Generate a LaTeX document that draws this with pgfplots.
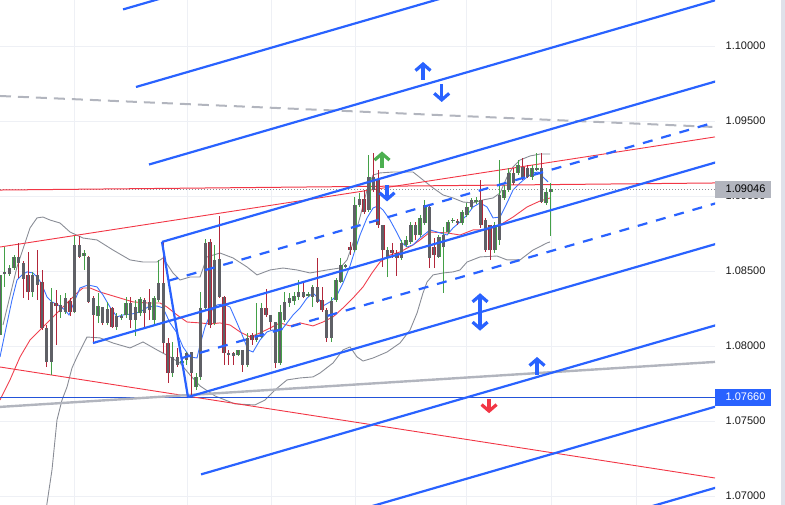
\documentclass[border=0pt]{standalone}
\usepackage{fontspec}
\setmainfont{Liberation Sans}
\usepackage{pgfplots}
\pgfplotsset{compat=1.18}
\usepackage{pgfplotstable}
\usetikzlibrary{arrows.meta}

\definecolor{tvblue}{HTML}{2962FF}
\definecolor{tvred}{HTML}{F23645}
\definecolor{cgreen}{HTML}{43A047}
\definecolor{cred}{HTML}{B2263A}
\definecolor{cbody}{HTML}{5F6066}
\definecolor{bbgrey}{HTML}{8A8D96}
\definecolor{lgrey}{HTML}{B2B5BE}
\definecolor{gridc}{HTML}{EEF0F5}
\definecolor{maBlue}{HTML}{3D74FF}
\definecolor{maRed}{HTML}{F0404F}
\definecolor{arrgreen}{HTML}{4CAF50}
\definecolor{strip}{HTML}{DFE1EA}

\pgfplotstableread{
i o h l c
0 1.08074 1.08507 1.08040 1.08474
1 1.08480 1.08660 1.08394 1.08494
2 1.08480 1.08540 1.08467 1.08520
3 1.08520 1.08607 1.08507 1.08594
7 1.08360 1.08494 1.08327 1.08474
11 1.07894 1.08387 1.07807 1.08294
13 1.08227 1.08340 1.08187 1.08274
14 1.08227 1.08354 1.08214 1.08320
16 1.08227 1.08734 1.08220 1.08674
18 1.08600 1.08640 1.08507 1.08620
21 1.08200 1.08354 1.08154 1.08267
23 1.08154 1.08294 1.08140 1.08247
25 1.08127 1.08220 1.08107 1.08200
26 1.08187 1.08214 1.08174 1.08200
27 1.08207 1.08327 1.08187 1.08287
29 1.08174 1.08307 1.08067 1.08260
30 1.08220 1.08327 1.08200 1.08314
33 1.08174 1.08334 1.08140 1.08320
34 1.08307 1.08574 1.08294 1.08420
37 1.07820 1.08027 1.07794 1.07927
39 1.07887 1.07927 1.07867 1.07900
40 1.07907 1.07960 1.07874 1.07954
42 1.07727 1.07820 1.07707 1.07794
43 1.07794 1.08360 1.07774 1.08254
44 1.08254 1.08714 1.08240 1.08687
46 1.08154 1.08674 1.08140 1.08574
51 1.07940 1.07974 1.07934 1.07974
53 1.07874 1.08087 1.07860 1.08054
55 1.08040 1.08287 1.08027 1.08074
56 1.08060 1.08287 1.08054 1.08254
60 1.07887 1.08274 1.07874 1.08227
61 1.08174 1.08360 1.08160 1.08294
62 1.08287 1.08354 1.08260 1.08320
63 1.08300 1.08360 1.08274 1.08334
64 1.08327 1.08440 1.08307 1.08360
66 1.08334 1.08360 1.08327 1.08347
67 1.08327 1.08407 1.08260 1.08394
71 1.08054 1.08327 1.08027 1.08300
72 1.08307 1.08454 1.08294 1.08440
73 1.08427 1.08587 1.08420 1.08540
74 1.08527 1.08547 1.08520 1.08540
76 1.08640 1.08994 1.08627 1.08940
77 1.08940 1.09020 1.08927 1.08980
79 1.08907 1.09274 1.08894 1.09127
83 1.08587 1.08660 1.08460 1.08640
86 1.08587 1.08707 1.08574 1.08687
87 1.08674 1.08734 1.08660 1.08707
88 1.08694 1.08827 1.08680 1.08807
90 1.08740 1.08874 1.08727 1.08854
91 1.08820 1.08974 1.08807 1.08940
94 1.08594 1.08740 1.08587 1.08727
95 1.08660 1.08794 1.08354 1.08740
96 1.08760 1.08840 1.08747 1.08827
97 1.08834 1.08854 1.08820 1.08840
99 1.08820 1.08907 1.08807 1.08894
100 1.08874 1.08954 1.08860 1.08927
101 1.08927 1.08987 1.08914 1.08974
102 1.08960 1.08994 1.08947 1.08974
106 1.08640 1.08827 1.08620 1.08807
107 1.08707 1.09240 1.08674 1.09007
108 1.08987 1.09074 1.08974 1.09040
109 1.09040 1.09187 1.09027 1.09154
111 1.09154 1.09240 1.09140 1.09207
114 1.09127 1.09207 1.09107 1.09187
115 1.09174 1.09287 1.09167 1.09187
117 1.08954 1.09054 1.08940 1.09027
118 1.09027 1.09087 1.08734 1.09047
}\bull

\pgfplotstableread{
i o h l c
4 1.08594 1.08687 1.08454 1.08554
5 1.08554 1.08567 1.08320 1.08447
6 1.08474 1.08627 1.08307 1.08360
8 1.08474 1.08640 1.08307 1.08407
9 1.08427 1.08507 1.08107 1.08120
10 1.08120 1.08140 1.07860 1.07894
12 1.08287 1.08374 1.08007 1.08267
15 1.08300 1.08320 1.08200 1.08227
17 1.08674 1.08734 1.08587 1.08594
19 1.08594 1.08600 1.08287 1.08294
20 1.08320 1.08334 1.08014 1.08207
22 1.08260 1.08260 1.08140 1.08154
24 1.08254 1.08260 1.08120 1.08127
28 1.08287 1.08327 1.08120 1.08174
31 1.08307 1.08320 1.08120 1.08220
32 1.08294 1.08380 1.08174 1.08240
35 1.08420 1.08694 1.07954 1.08020
36 1.08020 1.08054 1.07754 1.07820
38 1.07927 1.07987 1.07860 1.07874
41 1.07960 1.07960 1.07660 1.07820
45 1.08694 1.08714 1.08120 1.08140
47 1.08580 1.08867 1.08320 1.08327
48 1.08327 1.08334 1.07874 1.07954
49 1.07954 1.07974 1.07874 1.07940
50 1.07954 1.07960 1.07874 1.07934
52 1.07974 1.07974 1.07827 1.07874
54 1.08074 1.08087 1.08007 1.08040
57 1.08254 1.08380 1.08194 1.08207
58 1.08207 1.08207 1.08107 1.08160
59 1.08160 1.08160 1.07854 1.07887
65 1.08360 1.08427 1.08320 1.08327
68 1.08394 1.08587 1.08287 1.08294
69 1.08307 1.08394 1.08227 1.08240
70 1.08240 1.08254 1.08027 1.08054
75 1.08660 1.08694 1.08607 1.08640
78 1.08980 1.09040 1.08880 1.08894
80 1.09127 1.09287 1.09027 1.09040
81 1.09114 1.09174 1.08787 1.08807
82 1.08807 1.08807 1.08527 1.08640
84 1.08640 1.08687 1.08587 1.08620
85 1.08620 1.08640 1.08467 1.08587
89 1.08807 1.08827 1.08707 1.08740
92 1.08927 1.08940 1.08520 1.08587
93 1.08660 1.08720 1.08520 1.08607
98 1.08834 1.08847 1.08807 1.08820
103 1.08974 1.09107 1.08787 1.08807
104 1.08840 1.08854 1.08627 1.08640
105 1.08807 1.08807 1.08574 1.08640
110 1.09154 1.09187 1.09074 1.09087
112 1.09194 1.09254 1.09107 1.09120
113 1.09187 1.09207 1.09120 1.09127
116 1.09187 1.09287 1.08954 1.08960
}\bear

\pgfplotsset{
  candle/.style={draw=none, mark=none, error bars/.cd, y dir=plus, y explicit,
     error mark=none, error bar style={draw=#1}},
  tvarrow/.style={#1, line width=3.2pt, -{Straight Barb[length=6.5pt,width=15pt]},
     quiver={u=0, v=\thisrow{v}}},
}

\begin{document}
\begin{tikzpicture}
\path[use as bounding box] (0,0) rectangle (785pt,505pt);
\begin{axis}[
  at={(0pt,0pt)}, anchor=south west,
  width=715pt, height=505pt, scale only axis,
  xmin=0, xmax=153.2, ymin=1.06940, ymax=1.10307,
  clip mode=individual,
  axis line style={draw=none}, tick style={draw=none},
  major tick length=0pt,
  xtick=\empty,
  ytick={1.07,1.075,1.08,1.085,1.09,1.095,1.1},
  ymajorgrids, grid style={gridc, line width=0.8pt},
  yticklabel pos=right,
  yticklabel style={anchor=west, inner sep=0pt, xshift=10.5pt,
     font=\fontsize{11}{13}\selectfont, text=black!90},
  /pgf/number format/.cd, fixed, fixed zerofill, precision=5, assume math mode=true,
]

% vertical grid lines
\addplot[gridc, line width=0.8pt, mark=none] coordinates {(15.86,1.06) (15.86,1.11)};
\addplot[gridc, line width=0.8pt, mark=none] coordinates {(40.07,1.06) (40.07,1.11)};
\addplot[gridc, line width=0.8pt, mark=none] coordinates {(58.07,1.06) (58.07,1.11)};
\addplot[gridc, line width=0.8pt, mark=none] coordinates {(76.07,1.06) (76.07,1.11)};
\addplot[gridc, line width=0.8pt, mark=none] coordinates {(99.85,1.06) (99.85,1.11)};
\addplot[gridc, line width=0.8pt, mark=none] coordinates {(118.06,1.06) (118.06,1.11)};
\addplot[gridc, line width=0.8pt, mark=none] coordinates {(136.28,1.06) (136.28,1.11)};

% Bollinger bands
\addplot[bbgrey, line width=0.9pt, mark=none] coordinates {
(0.64,1.08140)(3.64,1.08527)(6.43,1.08787)(7.93,1.08854)(9.21,1.08860)(10.71,1.08840)
(12.86,1.08820)(15.0,1.08760)(17.79,1.08720)(20.79,1.08707)(24.21,1.08640)(27.86,1.08574)
(30.64,1.08560)(33.64,1.08560)(34.93,1.08587)(37.07,1.08487)(38.57,1.08440)(40.71,1.08460)
(42.86,1.08460)(44.36,1.08594)(47.14,1.08620)(49.93,1.08587)(52.93,1.08527)(55.07,1.08474)
(57.86,1.08507)(60.64,1.08520)(63.64,1.08507)(66.43,1.08487)(70.07,1.08507)(72.86,1.08520)
(74.36,1.08574)(75.64,1.08687)(77.14,1.08860)(78.64,1.09040)(79.93,1.09140)(81.43,1.09154)
(84.21,1.09160)(86.36,1.09160)(88.5,1.09160)(90.64,1.09107)(92.79,1.09054)(94.93,1.09007)
(97.07,1.08987)(99.21,1.08960)(101.36,1.08954)(103.5,1.08974)(105.64,1.08987)(107.14,1.09020)
(108.64,1.09127)(109.93,1.09194)(111.43,1.09240)(113.57,1.09267)(115.71,1.09280)(117.86,1.09280)
};
\addplot[bbgrey, line width=0.9pt, mark=none] coordinates {
(9.86,1.06907)(11.14,1.07174)(12.21,1.07507)(13.29,1.07640)(14.36,1.07727)(15.43,1.07854)
(16.5,1.07927)(18.64,1.08060)(21.43,1.08054)(24.21,1.08020)(27.86,1.07987)(30.64,1.08027)
(33.64,1.07974)(36.43,1.07927)(38.57,1.07887)(40.71,1.07807)(42.86,1.07734)(46.07,1.07667)
(50.36,1.07614)(54.64,1.07607)(56.79,1.07640)(58.93,1.07707)(61.5,1.07774)(64.29,1.07787)
(67.07,1.07794)(68.57,1.07820)(71.36,1.07887)(73.5,1.07974)(75.0,1.07994)(76.5,1.07927)
(77.79,1.07900)(79.93,1.07920)(82.93,1.07960)(85.71,1.08020)(87.86,1.08107)(89.36,1.08220)
(90.64,1.08354)(91.5,1.08427)(92.79,1.08474)(94.93,1.08487)(97.07,1.08494)(98.57,1.08507)
(100.07,1.08560)(102.86,1.08594)(106.5,1.08600)(108.64,1.08574)(111.43,1.08574)(114.21,1.08640)
(117.21,1.08687)(117.86,1.08694)
};

% slow moving average (red)
\addplot[maRed, line width=0.9pt, mark=none] coordinates {
(0,1.07640)(2.14,1.07774)(4.29,1.07927)(6.43,1.08040)(8.57,1.08107)(10.71,1.08174)
(12.86,1.08240)(15.0,1.08307)(16.5,1.08354)(17.79,1.08387)(19.29,1.08387)(21.43,1.08360)
(23.57,1.08340)(25.71,1.08320)(28.5,1.08294)(31.5,1.08287)(34.29,1.08287)(35.79,1.08260)
(37.93,1.08207)(40.07,1.08160)(42.86,1.08154)(45.0,1.08147)(47.14,1.08154)(49.29,1.08140)
(51.43,1.08094)(53.57,1.08060)(55.71,1.08087)(57.86,1.08120)(60.0,1.08154)(62.14,1.08134)
(64.29,1.08154)(67.07,1.08134)(69.21,1.08160)(71.36,1.08194)(73.5,1.08254)(75.64,1.08320)
(77.79,1.08394)(79.71,1.08487)(81.43,1.08560)(83.57,1.08607)(85.71,1.08627)(88.5,1.08674)
(90.0,1.08707)(92.14,1.08760)(95.79,1.08754)(98.57,1.08740)(101.36,1.08774)(104.36,1.08774)
(107.14,1.08807)(109.93,1.08860)(112.93,1.08927)(115.71,1.08967)(117.86,1.08987)
};
% fast moving average (blue)
\addplot[maBlue, line width=0.9pt, mark=none] coordinates {
(0,1.07927)(1.07,1.08087)(2.57,1.08307)(3.64,1.08440)(4.71,1.08474)(5.79,1.08494)
(7.07,1.08487)(8.14,1.08454)(9.0,1.08407)(10.07,1.08327)(11.14,1.08294)(12.43,1.08274)
(13.93,1.08240)(14.79,1.08207)(16.07,1.08307)(17.14,1.08387)(18.86,1.08407)(20.79,1.08394)
(22.07,1.08340)(23.57,1.08260)(25.07,1.08194)(26.36,1.08207)(28.29,1.08214)(30.0,1.08227)
(31.71,1.08260)(33.64,1.08267)(34.93,1.08254)(36.43,1.08154)(37.93,1.08087)(39.21,1.07994)
(40.71,1.07927)(42.21,1.07920)(42.86,1.08007)(43.93,1.08127)(45.43,1.08240)(46.5,1.08274)
(47.79,1.08280)(49.29,1.08260)(50.79,1.08154)(52.07,1.08060)(53.14,1.07974)(54.21,1.07960)
(55.71,1.08040)(57.21,1.08094)(58.5,1.08107)(60.0,1.08094)(61.5,1.08154)(62.79,1.08207)
(64.29,1.08254)(65.79,1.08320)(67.07,1.08354)(68.14,1.08320)(69.21,1.08267)(70.71,1.08294)
(72.21,1.08340)(73.5,1.08420)(75.0,1.08534)(76.07,1.08640)(77.14,1.08740)(78.64,1.08854)
(79.93,1.08920)(81.0,1.08934)(82.07,1.08907)(83.57,1.08840)(85.07,1.08754)(86.14,1.08687)
(87.21,1.08660)(88.5,1.08674)(90.0,1.08720)(92.14,1.08774)(94.29,1.08754)(95.79,1.08740)
(97.07,1.08787)(98.57,1.08827)(100.07,1.08874)(101.36,1.08927)(102.86,1.08954)(104.36,1.08927)
(105.64,1.08854)(107.14,1.08860)(108.64,1.08954)(109.93,1.09040)(111.43,1.09087)(112.93,1.09127)
(114.21,1.09154)(115.29,1.09160)(116.36,1.09127)(117.43,1.09094)
};

% horizontal lines
\addplot[bbgrey, line width=0.8pt, dash pattern=on 1pt off 2pt, mark=none] coordinates {(0,1.09046)(153.2,1.09046)};
\addplot[tvblue!85!black, line width=0.8pt, mark=none] coordinates {(0,1.07660)(153.2,1.07660)};
% red trend lines
\addplot[tvred, line width=1pt, mark=none] coordinates {(0,1.09040)(153.2,1.09087)};
\addplot[tvred, line width=0.9pt, mark=none] coordinates {(0,1.08660)(153.2,1.09394)};
\addplot[tvred, line width=0.9pt, mark=none] coordinates {(0,1.07860)(153.2,1.07120)};
% grey lines
\addplot[lgrey, line width=2pt, dash pattern=on 11pt off 7pt, mark=none] coordinates {(0,1.09667)(153.2,1.09460)};
\addplot[lgrey, line width=2.4pt, mark=none] coordinates {(0,1.07594)(153.2,1.07894)};

% candles: wicks
\addplot[candle={cgreen, line width=1pt}]
  table[x=i, y=l, y error plus expr=\thisrow{h}-\thisrow{l}] {\bull};
\addplot[candle={cred, line width=1pt}]
  table[x=i, y=l, y error plus expr=\thisrow{h}-\thisrow{l}] {\bear};
% candles: bodies
\addplot[candle={cgreen, line width=3.6pt}]
  table[x=i, y=o, y error plus expr={max(\thisrow{c}-\thisrow{o},0.00008)}] {\bull};
\addplot[candle={cred, line width=3.6pt}]
  table[x=i, y=c, y error plus expr={max(\thisrow{o}-\thisrow{c},0.00008)}] {\bear};
\addplot[candle={cbody, line width=2.5pt}]
  table[x=i, y=o, y error plus expr={max(\thisrow{c}-\thisrow{o},0.00008)}] {\bull};
\addplot[candle={cbody, line width=2.5pt}]
  table[x=i, y=c, y error plus expr={max(\thisrow{o}-\thisrow{c},0.00008)}] {\bear};

% pitchfork
\addplot[tvblue, line width=2.2pt, mark=none] coordinates {(19.93,1.08020)(162.85,1.09310)};
\addplot[tvblue, line width=2.2pt, mark=none] coordinates {(34.71,1.08694)(162.85,1.09850)};
\addplot[tvblue, line width=2.2pt, mark=none] coordinates {(40.28,1.07660)(162.85,1.08766)};
\addplot[tvblue, line width=2.2pt, mark=none] coordinates {(34.71,1.08694)(40.28,1.07660)};
\addplot[tvblue, line width=2.2pt, dash pattern=on 10pt off 9pt, mark=none] coordinates {(36.1,1.08435)(162.85,1.09579)};
\addplot[tvblue, line width=2.2pt, dash pattern=on 10pt off 9pt, mark=none] coordinates {(38.89,1.07919)(162.85,1.09037)};
\addplot[tvblue, line width=2.2pt, mark=none] coordinates {(31.93,1.09210)(162.85,1.10392)};
\addplot[tvblue, line width=2.2pt, mark=none] coordinates {(29.14,1.09727)(162.85,1.10934)};
\addplot[tvblue, line width=2.2pt, mark=none] coordinates {(26.36,1.10244)(162.85,1.11475)};
\addplot[tvblue, line width=2.2pt, mark=none] coordinates {(43.07,1.07144)(162.85,1.08224)};
\addplot[tvblue, line width=2.2pt, mark=none] coordinates {(45.85,1.06627)(162.85,1.07682)};
\addplot[tvblue, line width=2.2pt, mark=none] coordinates {(48.64,1.06110)(162.85,1.07141)};

% arrows
\addplot[tvarrow=tvblue] table[x=x, y=y] {
x y v
90.64 1.09774 0.00120
94.64 1.09747 -0.00120
82.93 1.09074 -0.00110
102.86 1.08227 0.00125
102.86 1.08227 -0.00125
115.07 1.07807 0.00120
};
\addplot[tvarrow=arrgreen] table[x=x, y=y] {
x y v
81.85 1.09187 0.00110
};
\addplot[tvarrow=tvred] table[x=x, y=y] {
x y v
104.79 1.07647 -0.00095
};

% price labels on the scale
\fill[lgrey] ([yshift=-8.5pt]axis cs:153.2,1.09046) rectangle ([xshift=56pt,yshift=8.5pt]axis cs:153.2,1.09046);
\node[anchor=west, inner sep=0pt, font=\fontsize{11}{13}\selectfont, text=black] at ([xshift=10.5pt]axis cs:153.2,1.09046) {1.09046};
\fill[tvblue] ([yshift=-8.5pt]axis cs:153.2,1.07660) rectangle ([xshift=56pt,yshift=8.5pt]axis cs:153.2,1.07660);
\node[anchor=west, inner sep=0pt, font=\fontsize{11}{13}\selectfont, text=white] at ([xshift=10.5pt]axis cs:153.2,1.07660) {1.07660};
\end{axis}
\fill[strip] (781pt,0pt) rectangle (785pt,505pt);
\end{tikzpicture}
\end{document}
